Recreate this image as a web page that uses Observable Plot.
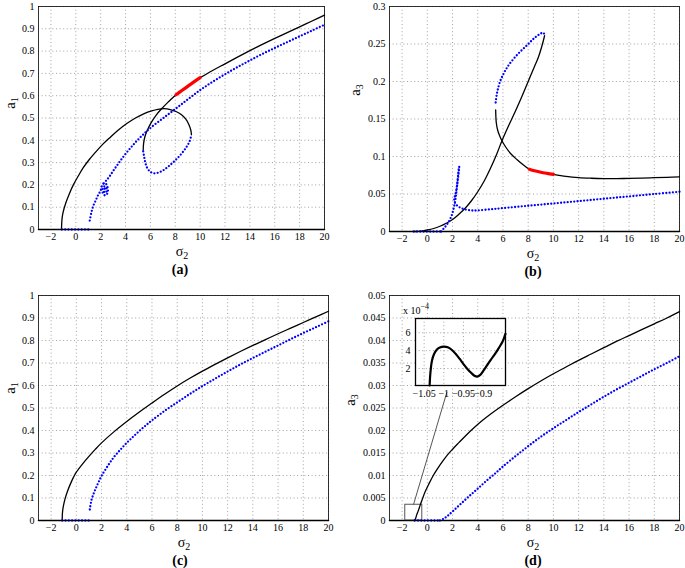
<!DOCTYPE html>
<html><head><meta charset="utf-8">
<script src="https://cdn.jsdelivr.net/npm/d3@7"></script>
<script src="https://cdn.jsdelivr.net/npm/@observablehq/plot@0.6"></script>
<style>
body{margin:0;background:#fff;}
#chart{position:relative;width:685px;height:568px;overflow:hidden;background:#fff;font-family:"Liberation Serif","Times New Roman",serif;}
#chart svg{position:absolute;left:0;top:0;font-family:"Liberation Serif","Times New Roman",serif !important;}
#chart svg text, #chart svg tspan{font-family:"Liberation Serif","Times New Roman",serif !important;}
</style></head><body><div id="chart"></div>
<script>
// ---------- tick values ----------
const sigmaTicks = [-2,0,2,4,6,8,10,12,14,16,18,20];
const a1Ticks = [0,0.1,0.2,0.3,0.4,0.5,0.6,0.7,0.8,0.9,1];
const a3TicksB = [0,0.05,0.1,0.15,0.2,0.25,0.3];
const a3TicksD = [0,0.005,0.01,0.015,0.02,0.025,0.03,0.035,0.04,0.045,0.05];
const insetXTicks = [-1.05,-1,-0.95,-0.9];
const insetYTicks = [2,4,6];

// ---------- data: [sigma2, amplitude] ----------
const trivial = [[-3,0],[20,0]];

// panel (a) a1
const aBlueZero = [[-1.12,0],[1.12,0]];
const aBlack1 = [[-1.15,0],[-1.12,0.04],[-1.05,0.07],[-0.8,0.12],[-0.5,0.163],[-0.2,0.2],[0.2,0.24],[0.6,0.277],[1.1,0.315],[1.7,0.354],[2.2,0.384],[2.8,0.415],[3.4,0.445],[4.1,0.475],[4.8,0.5],[5.5,0.52],[6.1,0.532],[6.6,0.539],[7.1,0.542],[7.6,0.538],[8.1,0.528],[8.5,0.515],[8.85,0.495],[9.1,0.47],[9.25,0.445],[9.3,0.425]];
const aBlack2Low = [[5.42,0.355],[5.45,0.385],[5.55,0.415],[5.75,0.445],[6.06,0.479],[6.45,0.512],[6.86,0.539],[7.4,0.57],[8.06,0.604]];
const aRed = [[8.06,0.604],[8.5,0.622],[9,0.642],[9.5,0.662],[10,0.681]];
const aBlack2High = [[10,0.681],[11,0.713],[12,0.743],[13,0.773],[14,0.802],[15,0.83],[16,0.857],[17,0.883],[18,0.909],[19,0.935],[20,0.961]];
const aBlueSpiral = [[1.12,0.04],[1.25,0.075],[1.4,0.105],[1.6,0.13],[1.8,0.155],[2.0,0.175],[2.1,0.195],[2.25,0.207],[2.42,0.205],[2.55,0.19],[2.58,0.172],[2.5,0.158],[2.35,0.153],[2.2,0.16],[2.14,0.175],[2.2,0.189],[2.33,0.194],[2.45,0.186],[2.47,0.172],[2.38,0.164],[2.28,0.168],[2.26,0.178],[2.33,0.183],[2.38,0.177]];
const aBlueUpper = [[2.25,0.207],[2.45,0.22],[2.7,0.237],[3.0,0.262],[3.35,0.29],[3.7,0.317],[4.1,0.346],[4.5,0.372],[4.95,0.4],[5.5,0.43],[6.06,0.458],[7,0.498],[8,0.54],[9,0.583],[10,0.625],[11,0.662],[12,0.696],[13,0.728],[14,0.758],[15,0.787],[16,0.814],[17,0.84],[18,0.866],[19,0.892],[20,0.918]];
const aBlueLoop = [[5.42,0.35],[5.5,0.325],[5.59,0.3],[5.75,0.275],[6.0,0.258],[6.3,0.252],[6.7,0.256],[7.1,0.268],[7.5,0.285],[8.0,0.31],[8.5,0.34],[8.9,0.37],[9.15,0.395],[9.3,0.425]];

// panel (b) a3
const bBlueZero = [[-1.08,0],[1.1,0]];
const bBlackRise = [[-1.05,0],[-0.5,0.0006],[0,0.002],[0.5,0.004],[1,0.007],[1.5,0.011],[2,0.016],[2.5,0.023],[3,0.031],[3.5,0.041],[4,0.053],[4.5,0.067],[5,0.084],[5.5,0.103],[5.92,0.121],[6.5,0.143],[7,0.161],[7.5,0.18],[8,0.2],[8.5,0.22],[8.8,0.232],[9.1,0.248],[9.3,0.261]];
const bBlackFallLow = [[5.42,0.162],[5.47,0.145],[5.58,0.135],[5.75,0.127],[5.92,0.121],[6.2,0.113],[6.6,0.104],[7.1,0.096],[7.6,0.089],[8.08,0.083]];
const bRed = [[8.08,0.083],[8.5,0.081],[9,0.079],[9.5,0.0775],[10,0.0762]];
const bBlackFallHigh = [[10,0.0762],[11,0.0735],[12,0.0718],[13,0.071],[14,0.0706],[15,0.0706],[16,0.0708],[17,0.0712],[18,0.0717],[19,0.0722],[20,0.0728]];
const bBlueSpike = [[1.1,0],[1.3,0.004],[1.5,0.008],[1.7,0.013],[1.9,0.02],[2.05,0.028],[2.2,0.04],[2.3,0.052],[2.38,0.064],[2.44,0.075],[2.5,0.085]];
const bBlueLower = [[2.53,0.086],[2.46,0.075],[2.36,0.062],[2.24,0.05],[2.13,0.043],[2.2,0.038],[2.4,0.034],[2.7,0.031],[3.1,0.029],[3.6,0.028],[4,0.0282],[5,0.0296],[6,0.0312],[8,0.0343],[10,0.0374],[12,0.0405],[14,0.0437],[16,0.0468],[18,0.05],[20,0.053]];
const bBlueUpper = [[5.42,0.172],[5.5,0.182],[5.6,0.19],[5.75,0.199],[5.95,0.207],[6.2,0.215],[6.5,0.223],[7.15,0.236],[7.95,0.249],[8.5,0.258],[9.0,0.264],[9.2,0.265],[9.3,0.262]];

// panel (c) a1
const cBlueZero = [[-1.12,0],[1.07,0]];
const cBlack = [[-1.12,0],[-1.11,0.025],[-1.08,0.045],[-1.02,0.066],[-0.9,0.095],[-0.7,0.13],[-0.45,0.165],[-0.2,0.195],[0,0.215],[0.5,0.252],[1,0.285],[1.5,0.316],[2,0.345],[3,0.395],[4,0.44],[5,0.482],[6,0.522],[7,0.561],[8,0.598],[9,0.632],[10,0.664],[11,0.694],[12,0.723],[13,0.751],[14,0.778],[15,0.804],[16,0.83],[17,0.855],[18,0.88],[19,0.905],[20,0.93]];
const cBlue = [[1.07,0.049],[1.2,0.09],[1.4,0.123],[1.6,0.15],[1.8,0.175],[2,0.198],[2.5,0.243],[3,0.283],[3.5,0.315],[4,0.345],[4.5,0.372],[5,0.398],[5.5,0.422],[6,0.445],[7,0.487],[8,0.525],[9,0.562],[10,0.597],[11,0.63],[12,0.662],[13,0.693],[14,0.722],[15,0.75],[16,0.778],[17,0.806],[18,0.833],[19,0.859],[20,0.885]];

// panel (d) a3
const dBlueZero = [[-1.0,0],[1.0,0]];
const dBlack = [[-1.04,0],[-0.95,0.0003],[-0.85,0.0012],[-0.7,0.0023],[-0.58,0.0033],[-0.4,0.0047],[-0.19,0.0063],[0.1,0.008],[0.47,0.01],[0.85,0.0117],[1.25,0.0133],[1.6,0.0146],[2.02,0.0159],[2.5,0.0173],[3.06,0.0189],[3.7,0.0206],[4.36,0.0222],[5,0.0236],[6,0.0256],[7,0.0275],[8,0.0293],[9,0.031],[10,0.0326],[11,0.0341],[12,0.0356],[13,0.037],[14,0.0384],[15,0.0398],[16,0.0411],[17,0.0424],[18,0.0437],[19,0.045],[20,0.0464]];
const dBlue = [[1.0,0],[1.3,0.0004],[1.6,0.001],[2.08,0.0022],[2.7,0.0038],[3.4,0.0056],[4.05,0.0072],[4.72,0.0089],[5.4,0.0105],[6,0.012],[7,0.0143],[8,0.0165],[9,0.0186],[10,0.0205],[11,0.0223],[12,0.0241],[13,0.0258],[14,0.0275],[15,0.0291],[16,0.0306],[17,0.0321],[18,0.0336],[19,0.035],[20,0.0365]];
const dZoomBox = [{x1:-1.75, x2:-0.4, y1:0, y2:0.0035}];
const dZoomLink = [{x1:-1.1, y1:0.0035, x2:1.55, y2:0.0285}];

// inset of (d): a3 in units of 1e-4
const insetCurve = [[-1.036,0.1],[-1.035,1.0],[-1.033,2.0],[-1.03,2.9],[-1.025,3.6],[-1.018,4.1],[-1.01,4.35],[-1.0,4.45],[-0.99,4.38],[-0.98,4.1],[-0.97,3.65],[-0.96,3.1],[-0.95,2.5],[-0.94,1.95],[-0.93,1.5],[-0.922,1.2],[-0.915,1.1],[-0.908,1.25],[-0.9,1.7],[-0.89,2.35],[-0.88,3.0],[-0.87,3.6],[-0.86,4.3],[-0.85,5.05],[-0.843,5.9]];

// ---------- drawing ----------
const W = 685, H = 568;
const FONT = "Liberation Serif, Times New Roman, serif";
const BLUE = "#0000ff", RED = "#ff0000";
const fmt = d => (d < 0 ? "\u2212" : "") + String(Math.abs(+d.toFixed(6)));
const root = document.getElementById("chart");

const blackLine = (data, w = 1.3) => Plot.line(data, {stroke: "black", strokeWidth: w, curve: "catmull-rom"});
const redLine = data => Plot.line(data, {stroke: RED, strokeWidth: 3.2, curve: "catmull-rom"});
const blueDots = data => Plot.line(data, {stroke: BLUE, strokeWidth: 2.3, strokeDasharray: "0,3.3", strokeLinecap: "round", curve: "catmull-rom"});

function panel({box, xDomain, yDomain, xTicks, yTicks, marks, bg = false, xPad = 3, yPad = 4, gridColor = "#8a8a8a", frameWidth = 0.8}) {
  const svg = Plot.plot({
    width: W, height: H,
    marginLeft: box[0], marginTop: box[1], marginRight: W - box[2], marginBottom: H - box[3],
    x: {domain: xDomain}, y: {domain: yDomain},
    style: "background:transparent;overflow:visible;font-family:'Liberation Serif',serif;font-size:10px;color:black;",
    marks: [
      bg ? Plot.frame({fill: "white"}) : null,
      Plot.gridX(xTicks, {stroke: gridColor, strokeOpacity: 1, strokeWidth: 0.8, strokeDasharray: "1,2.6"}),
      Plot.gridY(yTicks, {stroke: gridColor, strokeOpacity: 1, strokeWidth: 0.8, strokeDasharray: "1,2.6"}),
      ...marks,
      Plot.frame({stroke: "black", strokeWidth: frameWidth}),
      Plot.axisX(xTicks, {tickSize: 0, tickPadding: xPad, tickFormat: fmt, label: null, fontSize: 10}),
      Plot.axisY(yTicks, {tickSize: 0, tickPadding: yPad, tickFormat: fmt, label: null, fontSize: 10})
    ].filter(Boolean)
  });
  root.appendChild(svg);
  return d3.select(svg);
}

function subText(sel, x, y, main, sub, {size = 14, subSize = 10, rotate = false, subDy = 3} = {}) {
  const t = sel.append("text")
    .attr("transform", `translate(${x},${y})` + (rotate ? " rotate(-90)" : ""))
    .attr("text-anchor", "middle")
    .attr("font-family", FONT).attr("font-size", size).attr("fill", "black");
  t.append("tspan").text(main);
  t.append("tspan").attr("dy", subDy).attr("font-size", subSize).text(sub);
  return t;
}
function letter(sel, x, y, s) {
  sel.append("text").attr("x", x).attr("y", y).attr("text-anchor", "middle")
    .attr("font-family", FONT).attr("font-size", 14).attr("font-weight", "bold").attr("fill", "black").text(s);
}

// (a)
const pa = panel({
  box: [38, 6, 324, 229], xDomain: [-3, 20], yDomain: [0, 1], xTicks: sigmaTicks, yTicks: a1Ticks,
  marks: [
    Plot.line(trivial, {stroke: "black", strokeWidth: 1.5}),
    blackLine(aBlack1), blackLine(aBlack2Low), blackLine(aBlack2High), redLine(aRed),
    blueDots(aBlueZero), blueDots(aBlueSpiral), blueDots(aBlueUpper), blueDots(aBlueLoop)
  ]
});
subText(pa, 182, 256, "\u03c3", "2");
subText(pa, 15, 103, "a", "1", {rotate: true, size: 15});
letter(pa, 180, 274, "(a)");

// (b)
const pb = panel({
  box: [389, 6, 679, 231], xDomain: [-3, 20], yDomain: [0, 0.3], xTicks: sigmaTicks, yTicks: a3TicksB,
  marks: [
    Plot.line(trivial, {stroke: "black", strokeWidth: 1.5}),
    blackLine(bBlackRise), blackLine(bBlackFallLow), blackLine(bBlackFallHigh), redLine(bRed),
    blueDots(bBlueZero), blueDots(bBlueSpike), blueDots(bBlueLower), blueDots(bBlueUpper)
  ]
});
subText(pb, 533, 258, "\u03c3", "2");
subText(pb, 360, 90, "a", "3", {rotate: true, size: 15});
letter(pb, 533, 276, "(b)");

// (c)
const pc = panel({
  box: [38, 295, 328, 520], xDomain: [-3, 20], yDomain: [0, 1], xTicks: sigmaTicks, yTicks: a1Ticks,
  marks: [
    Plot.line(trivial, {stroke: "black", strokeWidth: 1.5}),
    blackLine(cBlack),
    blueDots(cBlueZero), blueDots(cBlue)
  ]
});
subText(pc, 184, 547, "\u03c3", "2");
subText(pc, 15, 388, "a", "1", {rotate: true, size: 15});
letter(pc, 180, 565, "(c)");

// (d)
const pd = panel({
  box: [389, 295, 679, 520], xDomain: [-3, 20], yDomain: [0, 0.05], xTicks: sigmaTicks, yTicks: a3TicksD,
  marks: [
    Plot.line(trivial, {stroke: "black", strokeWidth: 1.5}),
    Plot.rect(dZoomBox, {x1: "x1", x2: "x2", y1: "y1", y2: "y2", fill: "none", stroke: "#555", strokeWidth: 1}),
    Plot.link(dZoomLink, {x1: "x1", y1: "y1", x2: "x2", y2: "y2", stroke: "#555", strokeWidth: 1}),
    blackLine(dBlack),
    blueDots(dBlueZero), blueDots(dBlue)
  ]
});
subText(pd, 533, 547, "\u03c3", "2");
subText(pd, 355, 400, "a", "3", {rotate: true, size: 15});
letter(pd, 533, 565, "(d)");

// inset of (d)
const pi = panel({
  box: [415, 318, 505, 385], xDomain: [-1.072, -0.843], yDomain: [0.1, 7.6], xTicks: insetXTicks, yTicks: insetYTicks,
  bg: true, xPad: 4, yPad: 5, frameWidth: 1.3,
  marks: [blackLine(insetCurve, 2.2)]
});
const ex = pi.append("text").attr("x", 416).attr("y", 314)
  .attr("font-family", FONT).attr("font-size", 10).attr("fill", "black");
ex.append("tspan").text("x 10");
ex.append("tspan").attr("dy", -5).attr("font-size", 8).text("\u22124");
</script>
</body></html>
